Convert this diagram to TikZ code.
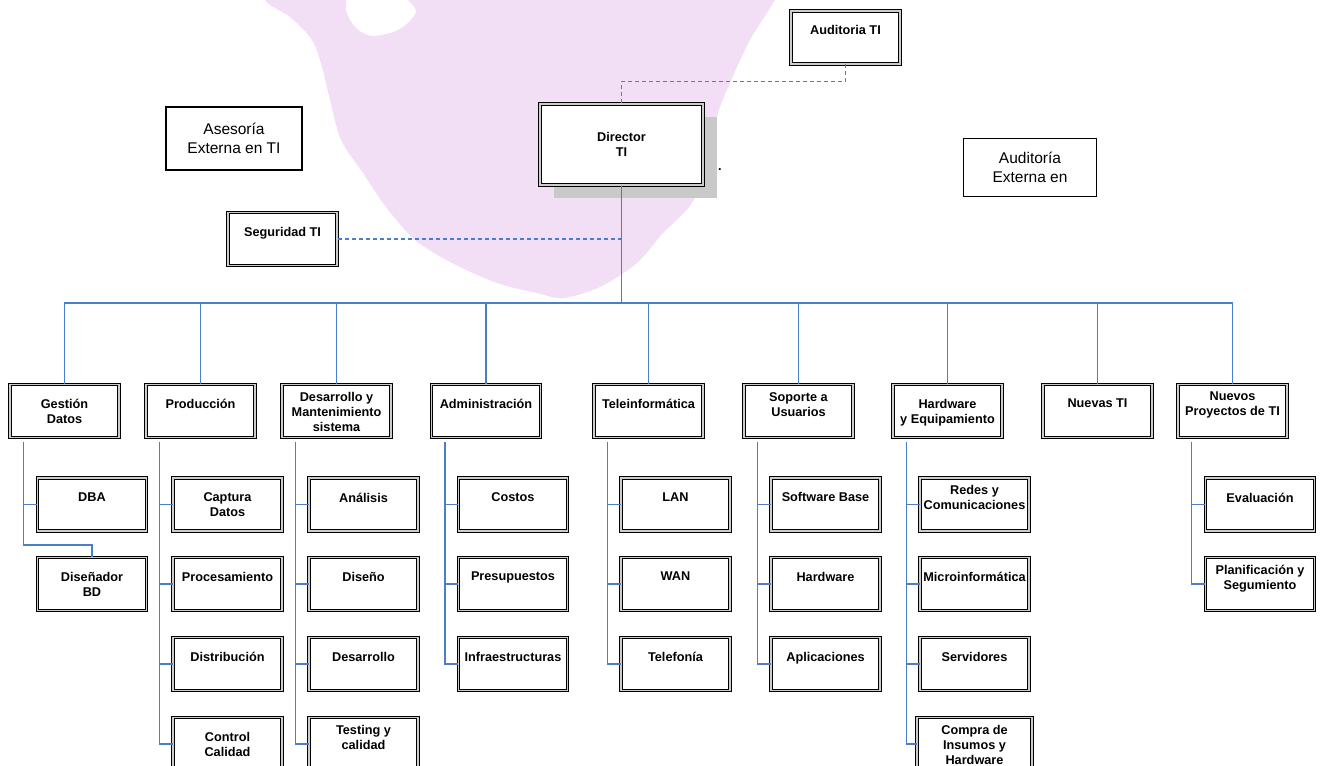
\documentclass[tikz,border=0pt]{standalone}
\usepackage{fontspec}
\setmainfont{Liberation Sans}
\usetikzlibrary{shadows}
\definecolor{orgblue}{RGB}{74,126,200}
\definecolor{wmpink}{RGB}{242,222,245}
\begin{document}
\begin{tikzpicture}[
	x=1pt, y=-1pt,
	unit/.style={ draw, double=black!20, double distance=1.4pt, line width=1pt, fill=white, inner sep=0pt, minimum width=109pt, minimum height=53pt },
	boss/.style={ unit, minimum width=163pt, minimum height=81pt, align=center, font=\bfseries\fontsize{12.7}{15}\selectfont, drop shadow={shadow xshift=14pt, shadow yshift=-13pt, fill=black!21, opacity=1} },
	outside/.style={ draw, line width=1.5pt, fill=white, inner sep=0pt, align=center, font=\fontsize{15.5}{19}\selectfont },
	tx/.style={ anchor=north, yshift=-15pt, inner sep=0pt, align=center, font=\bfseries\fontsize{12.7}{15}\selectfont },
	txup/.style={ tx, yshift=7pt },
	link/.style={ orgblue, line width=1.2pt },
	dottedlink/.style={ orgblue, line width=1.1pt, dash pattern=on 4pt off 3pt }
]
	\fill[white] (0,0) rectangle (1321,765);
	\useasboundingbox (0,0) rectangle (1321,765);

	\fill[wmpink] plot[smooth cycle, tension=0.5] coordinates { (262,-30) (265,0) (290,17) (312,40) (322,67) (330,100) (341,140) (363,173) (386,207) (415,240) (452,263) (497,283) (537,293) (563,298) (600,287) (637,263) (663,233) (689,207) (711,167) (717,117) (730,83) (750,40) (775,0) (790,-30) (420,-30) (416,12) (398,30) (372,36) (356,28) (346,10) (342,-30) };

	\node[unit, label={[tx]north:Auditoria TI}] (aud) at (845.5,37.5) {};
	\node[boss] (dir) at (621.5,144.5) {Director\\TI};
	\node[inner sep=0pt, font=\bfseries\fontsize{12.7}{15}\selectfont] (dot) at (720,170) {.};
	\node[outside, minimum width=136pt, minimum height=63pt] (ase) at (234,138.5) {Asesoría\\Externa en TI};
	\node[outside, minimum width=133pt, minimum height=58pt] (aue) at (1030,167.5) {Auditoría\\Externa en};
	\node[unit, label={[tx]north:Seguridad TI}] (seg) at (282.5,239) {};

	\node[unit, label={[tx]north:Gestión\\Datos}] (gd) at (64.5,411) {};
	\node[unit, label={[tx]north:Producción}] (pr) at (200.5,411) {};
	\node[unit, label={[txup]north:Desarrollo y\\Mantenimiento\\sistema}] (dm) at (336.5,411) {};
	\node[unit, label={[tx]north:Administración}] (ad) at (486,411) {};
	\node[unit, label={[tx]north:Teleinformática}] (te) at (648.5,411) {};
	\node[unit, label={[txup]north:Soporte a\\Usuarios}] (su) at (798.5,411) {};
	\node[unit, label={[tx]north:Hardware\\y Equipamiento}] (he) at (947.5,411) {};
	\node[unit, label={[tx]north:Nuevas TI}] (nt) at (1097.5,411) {};
	\node[unit, label={[txup]north:Nuevos\\Proyectos de TI}] (np) at (1232.5,411) {};

	\node[unit, label={[tx]north:DBA}] (gd1) at (92,504.5) {};
	\node[unit, label={[tx]north:Diseñador\\BD}] (gd2) at (92,584) {};

	\node[unit, label={[tx]north:Captura\\Datos}] (pr1) at (227.5,504.5) {};
	\node[unit, label={[tx]north:Procesamiento}] (pr2) at (227.5,584) {};
	\node[unit, label={[tx]north:Distribución}] (pr3) at (227.5,664) {};
	\node[unit, label={[tx]north:Control\\Calidad}] (pr4) at (227.5,744) {};

	\node[unit, label={[tx]north:Análisis}] (dm1) at (363.5,504.5) {};
	\node[unit, label={[tx]north:Diseño}] (dm2) at (363.5,584) {};
	\node[unit, label={[tx]north:Desarrollo}] (dm3) at (363.5,664) {};
	\node[unit, label={[txup]north:Testing y\\calidad}] (dm4) at (363.5,744) {};

	\node[unit, label={[tx]north:Costos}] (ad1) at (513,504.5) {};
	\node[unit, label={[tx]north:Presupuestos}] (ad2) at (513,584) {};
	\node[unit, label={[tx]north:Infraestructuras}] (ad3) at (513,664) {};

	\node[unit, label={[tx]north:LAN}] (te1) at (675.5,504.5) {};
	\node[unit, label={[tx]north:WAN}] (te2) at (675.5,584) {};
	\node[unit, label={[tx]north:Telefonía}] (te3) at (675.5,664) {};

	\node[unit, label={[tx]north:Software Base}] (su1) at (825.5,504.5) {};
	\node[unit, label={[tx]north:Hardware}] (su2) at (825.5,584) {};
	\node[unit, label={[tx]north:Aplicaciones}] (su3) at (825.5,664) {};

	\node[unit, label={[txup]north:Redes y\\Comunicaciones}] (he1) at (974.5,504.5) {};
	\node[unit, label={[tx]north:Microinformática}] (he2) at (974.5,584) {};
	\node[unit, label={[tx]north:Servidores}] (he3) at (974.5,664) {};
	\node[unit, minimum width=115pt, label={[txup]north:Compra de\\Insumos y\\Hardware}] (he4) at (974.5,744) {};

	\node[unit, label={[tx]north:Evaluación}] (np1) at (1260,504.5) {};
	\node[unit, label={[txup]north:Planificación y\\Segumiento}] (np2) at (1260,584) {};

	\draw[dottedlink] (aud.south) -- ++(0,17) -| (dir.north);
	\draw[dottedlink] (seg.east) -- (seg.east -| dir.south);

	\coordinate (bus) at (621.5,303);
	\foreach \n in {gd,pr,dm,ad,te,su,he,nt,np}
		\draw[link] (dir.south) |- (bus) -| (\n.north);

	\foreach \p/\k in {gd/1,pr/4,dm/4,ad/3,te/3,su/3,he/4,np/2}
		\foreach \i in {1,...,\k}
			\draw[link] ([xshift=14pt,yshift=-4pt]\p.south west) |- (\p\i.west);
	\draw[link] ([xshift=14pt,yshift=-4pt]gd.south west) |- ([yshift=12pt]gd2.north) -- (gd2.north);

\end{tikzpicture}
\end{document}
